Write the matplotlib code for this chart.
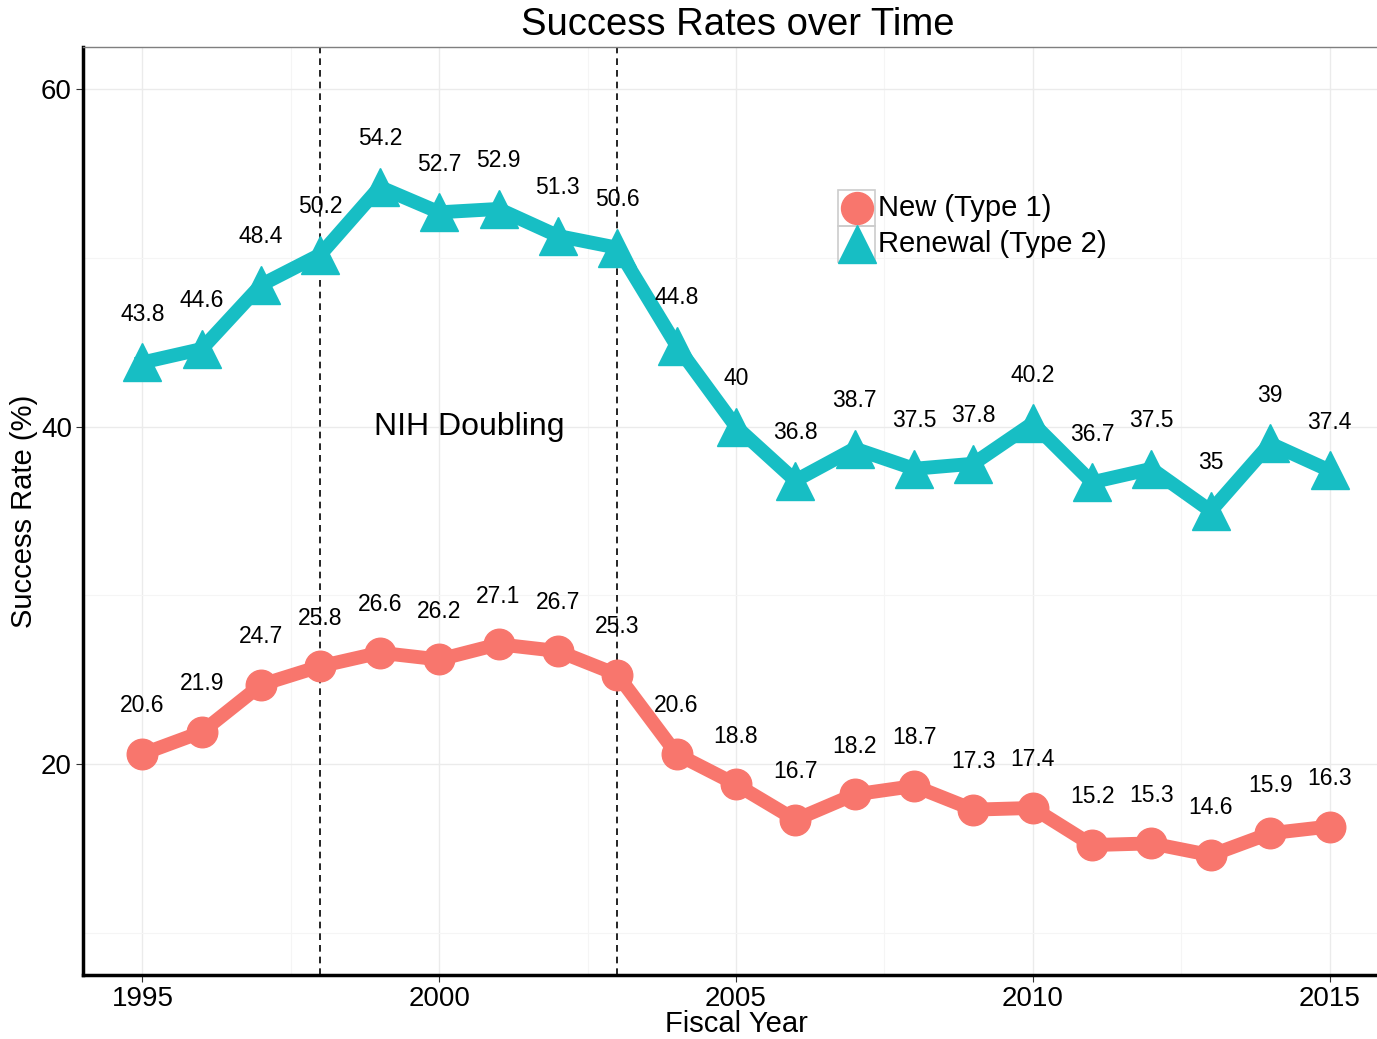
import matplotlib
matplotlib.use("Agg")
import matplotlib.pyplot as plt
from matplotlib.patches import Rectangle
from matplotlib.ticker import MultipleLocator

plt.rcParams['font.family'] = ['Liberation Sans', 'DejaVu Sans']

years = list(range(1995, 2016))
new_rates = [20.6, 21.9, 24.7, 25.8, 26.6, 26.2, 27.1, 26.7, 25.3, 20.6, 18.8,
             16.7, 18.2, 18.7, 17.3, 17.4, 15.2, 15.3, 14.6, 15.9, 16.3]
renewal_rates = [43.8, 44.6, 48.4, 50.2, 54.2, 52.7, 52.9, 51.3, 50.6, 44.8, 40,
                 36.8, 38.7, 37.5, 37.8, 40.2, 36.7, 37.5, 35, 39, 37.4]
series_names = ["New (Type 1)", "Renewal (Type 2)"]
doubling_years = [1998, 2003]

red = "#F8766D"
teal = "#17BEC4"

fig = plt.figure(figsize=(13.77, 10.39), dpi=100)
ax = fig.add_axes([0.0603, 0.0616, 0.9397, 0.8932])

ax.plot(years, renewal_rates, color=teal, lw=10, marker="^", ms=27,
        solid_joinstyle="round", zorder=3)
ax.plot(years, new_rates, color=red, lw=10, marker="o", ms=22,
        solid_joinstyle="round", zorder=3)

label_off = 2.85
for x, v in zip(years, renewal_rates):
    ax.text(x, v + label_off, f"{v:g}", ha="center", va="center", fontsize=16.5, zorder=4)
for x, v in zip(years, new_rates):
    ax.text(x, v + label_off, f"{v:g}", ha="center", va="center", fontsize=16.5, zorder=4)

for x in doubling_years:
    ax.axvline(x, color="black", lw=1.2, ls=(0, (4, 3)), zorder=2)
ax.text(2000.5, 40, "NIH Doubling", ha="center", va="center", fontsize=23)

ax.set_xlim(1994, 2015.8)
ax.set_ylim(7.5, 62.5)
ax.xaxis.set_major_locator(MultipleLocator(5))
ax.xaxis.set_minor_locator(MultipleLocator(2.5))
ax.yaxis.set_major_locator(MultipleLocator(20))
ax.yaxis.set_minor_locator(MultipleLocator(10))
ax.grid(which="major", color="#ebebeb", lw=1.0, zorder=0)
ax.grid(which="minor", color="#f5f5f5", lw=0.8, zorder=0)
ax.set_axisbelow(True)
ax.tick_params(which="major", labelsize=20, length=5, color="#333333", pad=3)
ax.tick_params(which="minor", length=0)

for s in ["left", "bottom"]:
    ax.spines[s].set_linewidth(2.5)
    ax.spines[s].set_color("black")
ax.spines["top"].set_color("#7f7f7f")
ax.spines["top"].set_linewidth(1)
ax.spines["right"].set_visible(False)

fig.text(0.5355, 0.976, "Success Rates over Time", ha="center", va="center", fontsize=27.5)
fig.text(0.535, 0.0144, "Fiscal Year", ha="center", va="center", fontsize=21)
ax.set_ylabel("Success Rate (%)", fontsize=21, labelpad=2)

# legend keys drawn by hand, ggplot style (grey boxed keys)
key_x, key_w, key_h = 0.5835, 0.0286, 0.0388
key_tops = [0.846, 0.8072]
key_styles = [(red, "o", 23), (teal, "^", 28)]
for top, (col, mk, sz), name in zip(key_tops, key_styles, series_names):
    ax.add_patch(Rectangle((key_x, top - key_h), key_w, key_h, transform=ax.transAxes,
                           fill=False, ec="#cccccc", lw=1.2, zorder=5, clip_on=False))
    ax.plot([key_x + key_w / 2], [top - key_h / 2], transform=ax.transAxes,
            color=col, marker=mk, ms=sz, lw=0, zorder=6, clip_on=False)
    ax.text(key_x + key_w + 0.002, top - key_h / 2, name, transform=ax.transAxes,
            ha="left", va="center", fontsize=21, zorder=6)

fig.savefig("out.png", dpi=100)
